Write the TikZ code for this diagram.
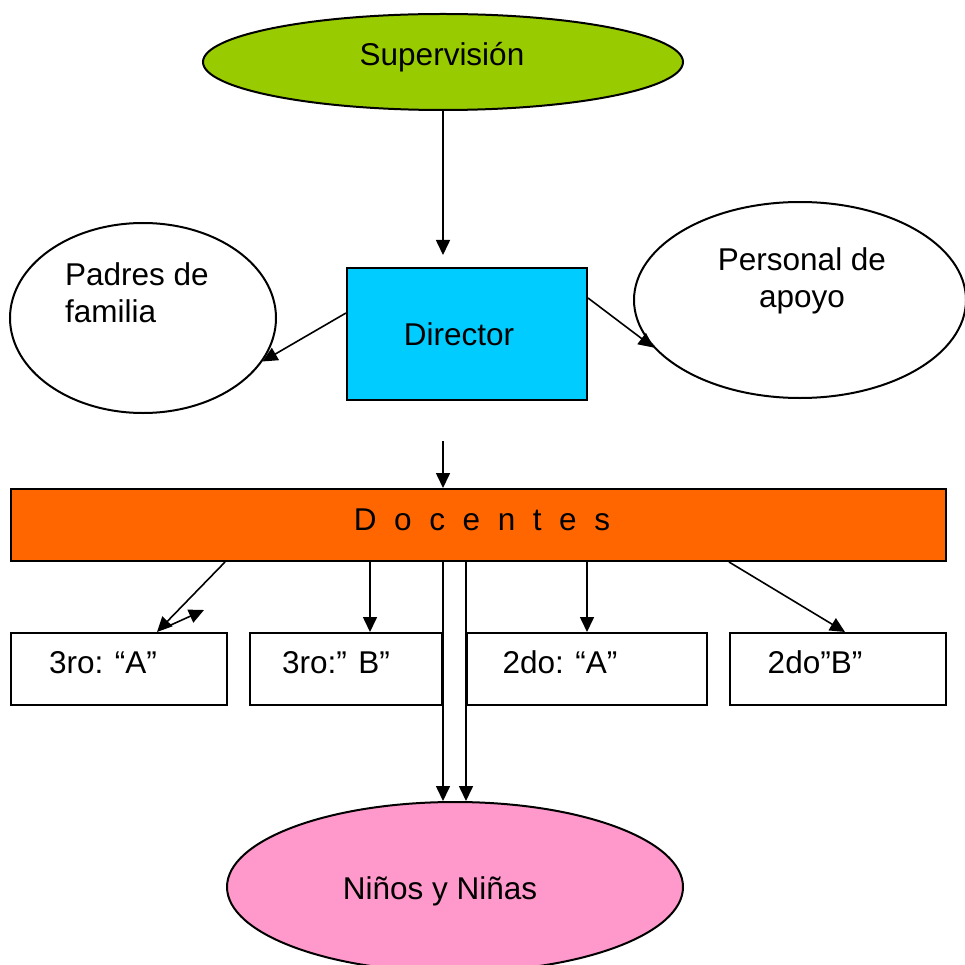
\documentclass[tikz,border=0pt]{standalone}
\usepackage{fontspec}
\setmainfont{Liberation Sans}
\usetikzlibrary{arrows.meta,shapes.geometric,calc}
\definecolor{supgreen}{HTML}{99CC00}
\definecolor{dircyan}{HTML}{00CCFF}
\definecolor{docorange}{HTML}{FF6600}
\definecolor{ninpink}{HTML}{FF99CC}
\begin{document}
\begin{tikzpicture}[x=1pt,y=-1pt,
  font=\fontsize{31.5}{37}\selectfont,
  shapeline/.style={draw=black,line width=2pt},
  ell/.style={shapeline,ellipse,inner sep=0pt},
  boxs/.style={shapeline,rectangle,inner sep=0pt},
  lbl/.style={inner sep=0pt,anchor=base},
  arr/.style={line width=1.6pt,-{Triangle[length=15pt,width=14pt]}}]
\useasboundingbox (0,0) rectangle (964,965);

% shapes
\node[ell,fill=supgreen,minimum width=480pt,minimum height=96pt] (sup) at (443,62) {};
\node[boxs,fill=dircyan,minimum width=240pt,minimum height=132pt] (dir) at (467,334) {};
\node[ell,fill=white,minimum width=266pt,minimum height=190pt] (padres) at (143,318) {};
\node[ell,fill=white,minimum width=332pt,minimum height=196pt] (pers) at (800,300) {};
\node[boxs,fill=docorange,minimum width=935pt,minimum height=72pt] (doc) at (478.5,525) {};
\node[boxs,fill=white,minimum width=216pt,minimum height=72pt] (b1) at (119,669) {};
\node[boxs,fill=white,minimum width=192pt,minimum height=72pt] (b2) at (346,669) {};
\node[boxs,fill=white,minimum width=240pt,minimum height=72pt] (b3) at (587,669) {};
\node[boxs,fill=white,minimum width=216pt,minimum height=72pt] (b4) at (838,669) {};
\node[ell,fill=ninpink,minimum width=456pt,minimum height=170pt] (ninos) at (455,887) {};

% labels
\node[lbl] (tsup) at (442,66) {Supervisión};
\node[lbl] (tdir) at (459,345) {Director};
\node[lbl,align=left,anchor=base west] (tpad) at (65,322) {Padres de\\familia};
\node[lbl,align=center] (tper) at (802,307) {Personal de\\apoyo};
\node[lbl] (tdoc) at (482,530) {\spaceskip=17.6pt plus 0pt minus 0pt D o c e n t e s};
\node[lbl] (t1) at (103,673) {3ro: “A”};
\node[lbl] (t2) at (336,673) {3ro:” B”};
\node[lbl] (t3) at (560,673) {2do: “A”};
\node[lbl] (t4) at (815,673) {2do”B”};
\node[lbl] (tnin) at (440,899) {Niños y Niñas};

% connectors
\coordinate (supend) at (443,255);
\draw[arr] (sup.south) -- (supend);
\coordinate (dstart) at (443,441);
\draw[arr] (dstart) -- (dstart |- doc.north);
\draw[arr] ([yshift=21pt]dir.west) -- (padres.-20.6);
\draw[arr] ([yshift=36pt]dir.east) -- (pers.-162.5);

\draw[arr] ([xshift=215pt]doc.south west) -- ([xshift=38pt]b1.north);
\coordinate (c1) at (204,610);
\draw[arr] ([xshift=43pt,yshift=3pt]b1.north) -- (c1);
\draw[arr] ([xshift=24pt]b2.north |- doc.south) -- ([xshift=24pt]b2.north);
\draw[arr] (b3.north |- doc.south) -- (b3.north);
\draw[arr] ([xshift=719pt]doc.south west) -- ([xshift=7pt]b4.north);
\draw[arr] ([xshift=-12pt]ninos.north |- doc.south) -- ([xshift=-12pt]ninos.north);
\draw[arr] ([xshift=11pt]ninos.north |- doc.south) -- ([xshift=11pt]ninos.north);
\end{tikzpicture}
\end{document}
